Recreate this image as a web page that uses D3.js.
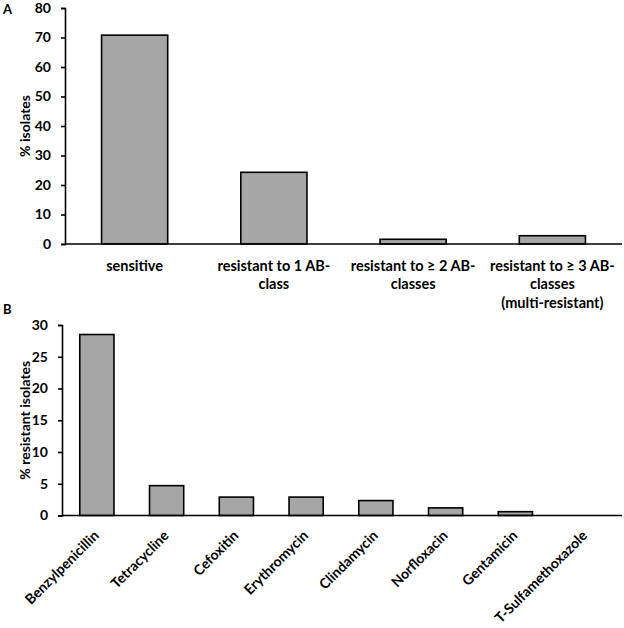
<!DOCTYPE html>
<html>
<head>
<meta charset="utf-8">
<script src="https://cdn.jsdelivr.net/npm/d3@7"></script>
<style>
  body { margin: 0; background: #fff; }
  svg { display: block; font-family: Lato, "Open Sans", sans-serif; font-weight: bold; }
  .domain { stroke: #000; stroke-width: 1.6; }
  .tick line { stroke: #000; stroke-width: 1.6; }
</style>
</head>
<body>
<div id="chart"></div>
<script>
// panel A
const groupsA = ["sensitive", "resistant to 1 AB-|class", "resistant to ≥ 2 AB-|classes", "resistant to ≥ 3 AB-|classes|(multi-resistant)"];
const valuesA = [70.8, 24.3, 1.6, 2.8];
const ticksA = [0, 10, 20, 30, 40, 50, 60, 70, 80];

// panel B
const drugsB = ["Benzylpenicillin", "Tetracycline", "Cefoxitin", "Erythromycin", "Clindamycin", "Norfloxacin", "Gentamicin", "T-Sulfamethoxazole"];
const valuesB = [28.5, 4.7, 2.9, 2.9, 2.35, 1.2, 0.6, 0];
const ticksB = [0, 5, 10, 15, 20, 25, 30];

const width = 624, height = 628;

var svg = d3.select("#chart")
  .append("svg")
  .attr("width", width)
  .attr("height", height);

// ---------- A ----------
var xA = d3.scaleBand()
  .domain(groupsA)
  .range([65, 622])
  .paddingInner(0.525)
  .paddingOuter(0.2625);

var yA = d3.scaleLinear()
  .domain([0, 80])
  .range([244, 8]);

var gA = svg.append("g");

gA.selectAll("rect")
  .data(valuesA)
  .enter()
  .append("rect")
  .attr("x", (d, i) => xA(groupsA[i]))
  .attr("y", d => yA(d))
  .attr("width", xA.bandwidth())
  .attr("height", d => yA(0) - yA(d))
  .attr("fill", "#a6a6a6")
  .attr("stroke", "#000")
  .attr("stroke-width", 1.6);

gA.append("g")
  .attr("transform", "translate(65,0)")
  .style("font-size", "14px")
  .style("font-family", "Lato, sans-serif")
  .style("font-weight", "bold")
  .call(d3.axisLeft(yA).tickValues(ticksA).tickSizeOuter(0).tickSize(4).tickPadding(10))
  .selectAll("text").attr("fill", "#000");

gA.append("line")
  .attr("x1", 65).attr("x2", 622)
  .attr("y1", yA(0)).attr("y2", yA(0))
  .attr("stroke", "#000").attr("stroke-width", 1.6);

gA.selectAll(".catA")
  .data(groupsA)
  .enter()
  .append("text")
  .attr("class", "catA")
  .attr("text-anchor", "middle")
  .style("font-size", "14.5px")
  .each(function (d) {
    var t = d3.select(this);
    d.split("|").forEach((line, k) => {
      t.append("tspan")
        .attr("x", xA(d) + xA.bandwidth() / 2)
        .attr("y", 270.5 + k * 18.5)
        .text(line);
    });
  });

gA.append("text")
  .attr("transform", `translate(30,${(yA(0) + yA(80)) / 2}) rotate(-90)`)
  .attr("text-anchor", "middle")
  .style("font-size", "14px")
  .text("% isolates");

svg.append("text").attr("x", 3).attr("y", 14).style("font-size", "13px").text("A");

// ---------- B ----------
var xB = d3.scaleBand()
  .domain(drugsB)
  .range([62, 620])
  .paddingInner(0.51)
  .paddingOuter(0.255);

var yB = d3.scaleLinear()
  .domain([0, 30])
  .range([515.5, 325]);

var gB = svg.append("g");

gB.selectAll("rect")
  .data(valuesB.filter(d => d > 0))
  .enter()
  .append("rect")
  .attr("x", (d, i) => xB(drugsB[i]))
  .attr("y", d => yB(d))
  .attr("width", xB.bandwidth())
  .attr("height", d => yB(0) - yB(d))
  .attr("fill", "#a6a6a6")
  .attr("stroke", "#000")
  .attr("stroke-width", 1.6);

gB.append("g")
  .attr("transform", "translate(62,0)")
  .style("font-size", "14px")
  .style("font-family", "Lato, sans-serif")
  .style("font-weight", "bold")
  .call(d3.axisLeft(yB).tickValues(ticksB).tickSizeOuter(0).tickSize(4).tickPadding(10))
  .selectAll("text").attr("fill", "#000");

gB.append("line")
  .attr("x1", 62).attr("x2", 622)
  .attr("y1", yB(0)).attr("y2", yB(0))
  .attr("stroke", "#000").attr("stroke-width", 1.6);

gB.selectAll(".catB")
  .data(drugsB)
  .enter()
  .append("text")
  .attr("class", "catB")
  .attr("text-anchor", "end")
  .style("font-size", "14px")
  .attr("transform", d => `translate(${xB(d) + xB.bandwidth() / 2 + 3},${yB(0) + 21}) rotate(-45)`)
  .text(d => d);

gB.append("text")
  .attr("transform", `translate(30,${(yB(0) + yB(30)) / 2}) rotate(-90)`)
  .attr("text-anchor", "middle")
  .style("font-size", "14px")
  .text("% resistant isolates");

svg.append("text").attr("x", 3).attr("y", 314).style("font-size", "13px").text("B");
</script>
</body>
</html>
